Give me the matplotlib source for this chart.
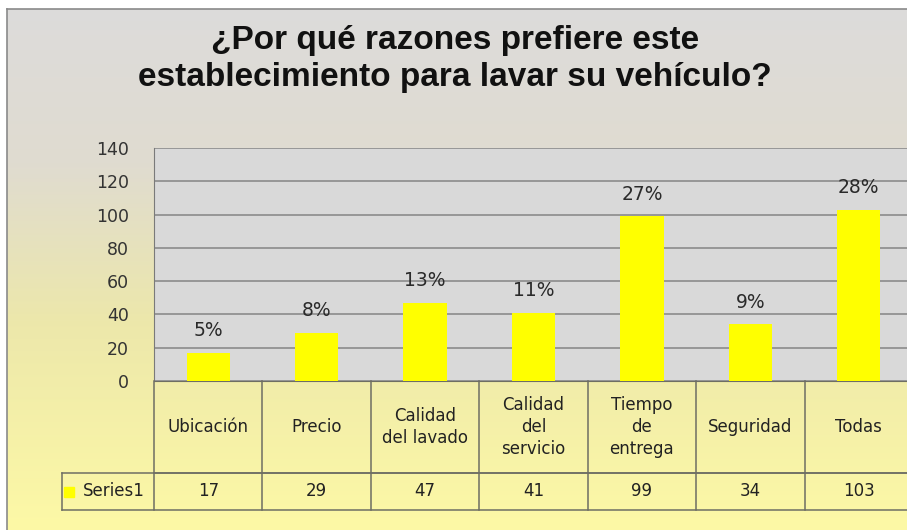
import matplotlib

matplotlib.use("Agg")
import matplotlib.pyplot as plt
import numpy as np
from matplotlib.colors import LinearSegmentedColormap
from matplotlib.lines import Line2D
from matplotlib.transforms import blended_transform_factory

# Data
categories = [
    "Ubicación",
    "Precio",
    "Calidad\ndel lavado",
    "Calidad\ndel\nservicio",
    "Tiempo\nde\nentrega",
    "Seguridad",
    "Todas",
]
values = [17, 29, 47, 41, 99, 34, 103]
pct_labels = ["5%", "8%", "13%", "11%", "27%", "9%", "28%"]
series_name = "Series1"
yticks = [0, 20, 40, 60, 80, 100, 120, 140]

W, H = 907, 530
fig = plt.figure(figsize=(W / 100, H / 100), dpi=100)
fig.patch.set_facecolor("white")

# chart background gradient (gray at top to pale yellow at bottom)
bg = fig.add_axes([7 / W, 0, 1 - 7 / W, 1 - 9 / H], zorder=0)
cmap = LinearSegmentedColormap.from_list(
    "bg",
    [
        (0.0, (0.865, 0.862, 0.858)),
        (0.30, (0.878, 0.862, 0.815)),
        (0.60, (0.928, 0.908, 0.670)),
        (1.0, (0.992, 0.976, 0.650)),
    ],
)
grad = np.linspace(0, 1, 256).reshape(-1, 1)
bg.imshow(grad, aspect="auto", cmap=cmap, extent=[0, 1, 1, 0])
bg.set_axis_off()

# chart border
fig.add_artist(Line2D([7 / W, 7 / W], [0, 1 - 9 / H], color="#8a8a8a", lw=1.2))
fig.add_artist(Line2D([7 / W, 1], [1 - 9 / H, 1 - 9 / H], color="#8a8a8a", lw=1.2))

fig.text(
    0.5017,
    1 - 59 / H,
    "¿Por qué razones prefiere este\nestablecimiento para lavar su vehículo?",
    ha="center",
    va="center",
    fontsize=24,
    fontweight="bold",
    family=["Liberation Sans", "DejaVu Sans"],
    color="#111111",
    linespacing=1.25,
)

# plot area
ax = fig.add_axes([154 / W, (H - 381) / H, (913 - 154) / W, 233 / H], zorder=2)
ax.set_facecolor("#d9d9d9")
x = np.arange(len(categories))
ax.bar(x, values, width=0.4, color="#ffff00", zorder=3)
ax.set_xlim(-0.5, len(categories) - 0.5)
ax.set_ylim(0, 140)
ax.set_yticks(yticks)
ax.set_yticklabels([str(t) for t in yticks], fontsize=12.5, color="#333333")
ax.tick_params(axis="y", length=0, pad=18)
ax.set_xticks([])
ax.yaxis.grid(True, color="#858585", lw=1.1)
ax.set_axisbelow(True)
for s in ["top", "right"]:
    ax.spines[s].set_visible(False)
ax.spines["left"].set_color("#7a7a7a")
ax.spines["bottom"].set_color("#6e6e64")

for xi, v, lab in zip(x, values, pct_labels):
    ax.annotate(
        lab,
        (xi, v),
        xytext=(0, 16),
        textcoords="offset points",
        ha="center",
        va="center",
        fontsize=13.5,
        color="#2a2a2a",
    )

# data table under the axis
tr = blended_transform_factory(ax.transData, ax.transAxes)
h1 = -92 / 233
h2 = -129 / 233
left_cell = -1.35
line_kw = dict(color="#6e6e64", lw=1.1, transform=tr, clip_on=False, zorder=4)
ax.plot([-0.5, len(categories) - 0.5], [h1, h1], **line_kw)
ax.plot([left_cell, len(categories) - 0.5], [h1, h1], **line_kw)
ax.plot([left_cell, len(categories) - 0.5], [h2, h2], **line_kw)
ax.plot([left_cell, left_cell], [h1, h2], **line_kw)
for b in np.arange(len(categories)) - 0.5:
    ax.plot([b, b], [0, h2], **line_kw)

for xi, cat, v in zip(x, categories, values):
    ax.text(
        xi, h1 / 2, cat, transform=tr, ha="center", va="center",
        fontsize=12, color="#222222", linespacing=1.3, clip_on=False,
    )
    ax.text(
        xi, (h1 + h2) / 2, str(v), transform=tr, ha="center", va="center",
        fontsize=12, color="#222222", clip_on=False,
    )

ax.plot(
    [left_cell + 0.07], [(h1 + h2) / 2], marker="s", ms=7, color="#ffff00",
    transform=tr, clip_on=False, zorder=5,
)
ax.text(
    (left_cell - 0.5) / 2 + 0.05, (h1 + h2) / 2, series_name, transform=tr,
    ha="center", va="center", fontsize=12, color="#222222", clip_on=False,
)

fig.savefig("out.png", dpi=100)
